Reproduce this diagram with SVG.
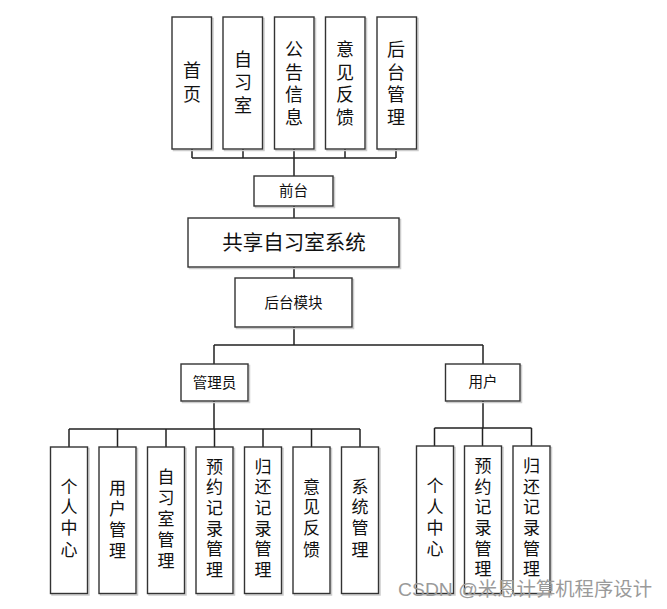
<svg xmlns="http://www.w3.org/2000/svg" width="667" height="609" viewBox="0 0 667 609">
<style>
.box{fill:#fff;stroke:#333;stroke-width:1.4}
.sh{fill:none;stroke:#ccc;stroke-width:1.5}
.ln{fill:none;stroke:#222;stroke-width:1.5}
text{font-family:"Liberation Sans","Noto Sans CJK SC",sans-serif;fill:#111;text-anchor:middle;dominant-baseline:central}
.t18{font-size:18px}
.t17{font-size:17px}
.t15{font-size:14.5px}
.t21{font-size:20.5px}
.wm{font-size:19px;fill:#9a9a9a;text-anchor:start;dominant-baseline:auto}
</style>
<rect width="667" height="609" fill="#fff"/>
<g id="connectors">
<path class="ln" d="M192 149V158M243 149V158M294 149V158M345 149V158M396 149V158M192 158H396M294 158V176"/>
<path class="ln" d="M294 206V218M294 267V278M294 327V345M214 345H483M214 345V364M483 345V364"/>
<path class="ln" d="M214 401V429M69 429H360M69 429V447M117.5 429V447M166 429V447M214.5 429V447M263 429V447M311.5 429V447M360 429V447"/>
<path class="ln" d="M483 401V428M434.5 428H531.5M434.5 428V446M482.5 428V446M531.5 428V446"/>
</g>
<g id="n_home"><rect class="sh" x="173.5" y="18.5" width="39.5" height="132"/><rect class="box" x="172" y="17" width="39.5" height="132"/><text class="t18" x="192" y="71">首</text><text class="t18" x="192" y="95">页</text></g>
<g id="n_room"><rect class="sh" x="224.5" y="18.5" width="39.5" height="132"/><rect class="box" x="223" y="17" width="39.5" height="132"/><text class="t18" x="243" y="60">自</text><text class="t18" x="243" y="83">习</text><text class="t18" x="243" y="106">室</text></g>
<g id="n_notice"><rect class="sh" x="276" y="18.5" width="39.5" height="132"/><rect class="box" x="274.5" y="17" width="39.5" height="132"/><text class="t18" x="294" y="50">公</text><text class="t18" x="294" y="72.5">告</text><text class="t18" x="294" y="95">信</text><text class="t18" x="294" y="117.5">息</text></g>
<g id="n_feedback"><rect class="sh" x="327" y="18.5" width="39.5" height="132"/><rect class="box" x="325.5" y="17" width="39.5" height="132"/><text class="t18" x="345" y="50">意</text><text class="t18" x="345" y="72.5">见</text><text class="t18" x="345" y="95">反</text><text class="t18" x="345" y="117.5">馈</text></g>
<g id="n_admin"><rect class="sh" x="378.5" y="18.5" width="39.5" height="132"/><rect class="box" x="377" y="17" width="39.5" height="132"/><text class="t18" x="396" y="50">后</text><text class="t18" x="396" y="72.5">台</text><text class="t18" x="396" y="95">管</text><text class="t18" x="396" y="117.5">理</text></g>
<g id="n_front"><rect class="sh" x="255.5" y="177.5" width="79" height="30"/><rect class="box" x="254" y="176" width="79" height="30"/><text class="t15" x="293.5" y="191">前台</text></g>
<g id="n_system"><rect class="sh" x="189.5" y="219.5" width="211" height="49"/><rect class="box" x="188" y="218" width="211" height="49"/><text class="t21" x="294" y="242">共享自习室系统</text></g>
<g id="n_backend"><rect class="sh" x="236.5" y="279.5" width="117" height="49"/><rect class="box" x="235" y="278" width="117" height="49"/><text class="t15" x="293.5" y="302.5">后台模块</text></g>
<g id="n_manager"><rect class="sh" x="182.5" y="365.5" width="67" height="37"/><rect class="box" x="181" y="364" width="67" height="37"/><text class="t15" x="214.5" y="382.5">管理员</text></g>
<g id="n_user"><rect class="sh" x="447" y="365.5" width="74.5" height="37"/><rect class="box" x="445.5" y="364" width="74.5" height="37"/><text class="t15" x="483" y="382">用户</text></g>
<g id="m_center"><rect class="sh" x="52" y="448.5" width="37" height="146.5"/><rect class="box" x="50.5" y="447" width="37" height="146.5"/><text class="t17" x="69" y="487">个</text><text class="t17" x="69" y="507.5">人</text><text class="t17" x="69" y="528.5">中</text><text class="t17" x="69" y="550">心</text></g>
<g id="m_user"><rect class="sh" x="100.5" y="448.5" width="37" height="146.5"/><rect class="box" x="99" y="447" width="37" height="146.5"/><text class="t17" x="117.5" y="488">用</text><text class="t17" x="117.5" y="509">户</text><text class="t17" x="117.5" y="530.5">管</text><text class="t17" x="117.5" y="551.5">理</text></g>
<g id="m_room"><rect class="sh" x="149" y="448.5" width="37" height="146.5"/><rect class="box" x="147.5" y="447" width="37" height="146.5"/><text class="t17" x="166" y="477">自</text><text class="t17" x="166" y="498">习</text><text class="t17" x="166" y="519">室</text><text class="t17" x="166" y="540.5">管</text><text class="t17" x="166" y="561.5">理</text></g>
<g id="m_booking"><rect class="sh" x="197.5" y="448.5" width="37" height="146.5"/><rect class="box" x="196" y="447" width="37" height="146.5"/><text class="t17" x="214.5" y="467">预</text><text class="t17" x="214.5" y="487.5">约</text><text class="t17" x="214.5" y="508">记</text><text class="t17" x="214.5" y="529">录</text><text class="t17" x="214.5" y="549.5">管</text><text class="t17" x="214.5" y="570">理</text></g>
<g id="m_return"><rect class="sh" x="246" y="448.5" width="37" height="146.5"/><rect class="box" x="244.5" y="447" width="37" height="146.5"/><text class="t17" x="263" y="467">归</text><text class="t17" x="263" y="487.5">还</text><text class="t17" x="263" y="508">记</text><text class="t17" x="263" y="529">录</text><text class="t17" x="263" y="549.5">管</text><text class="t17" x="263" y="570">理</text></g>
<g id="m_feedback"><rect class="sh" x="294.5" y="448.5" width="37" height="146.5"/><rect class="box" x="293" y="447" width="37" height="146.5"/><text class="t17" x="311.5" y="487">意</text><text class="t17" x="311.5" y="507.5">见</text><text class="t17" x="311.5" y="528.5">反</text><text class="t17" x="311.5" y="550">馈</text></g>
<g id="m_system"><rect class="sh" x="343" y="448.5" width="37" height="146.5"/><rect class="box" x="341.5" y="447" width="37" height="146.5"/><text class="t17" x="360" y="487">系</text><text class="t17" x="360" y="507.5">统</text><text class="t17" x="360" y="528.5">管</text><text class="t17" x="360" y="550">理</text></g>
<g id="u_center"><rect class="sh" x="418" y="447.5" width="37" height="147.5"/><rect class="box" x="416.5" y="446" width="37" height="147.5"/><text class="t17" x="435" y="486.5">个</text><text class="t17" x="435" y="507">人</text><text class="t17" x="435" y="528">中</text><text class="t17" x="435" y="549.5">心</text></g>
<g id="u_booking"><rect class="sh" x="466" y="447.5" width="37" height="147.5"/><rect class="box" x="464.5" y="446" width="37" height="147.5"/><text class="t17" x="483" y="466.5">预</text><text class="t17" x="483" y="487">约</text><text class="t17" x="483" y="507.5">记</text><text class="t17" x="483" y="528.5">录</text><text class="t17" x="483" y="549">管</text><text class="t17" x="483" y="569.5">理</text></g>
<g id="u_return"><rect class="sh" x="514.5" y="447.5" width="37" height="147.5"/><rect class="box" x="513" y="446" width="37" height="147.5"/><text class="t17" x="531.5" y="466.5">归</text><text class="t17" x="531.5" y="487">还</text><text class="t17" x="531.5" y="507.5">记</text><text class="t17" x="531.5" y="528.5">录</text><text class="t17" x="531.5" y="549">管</text><text class="t17" x="531.5" y="569.5">理</text></g>
<text class="wm" x="398" y="596" textLength="254" lengthAdjust="spacingAndGlyphs">CSDN @米恩计算机程序设计</text>
</svg>
